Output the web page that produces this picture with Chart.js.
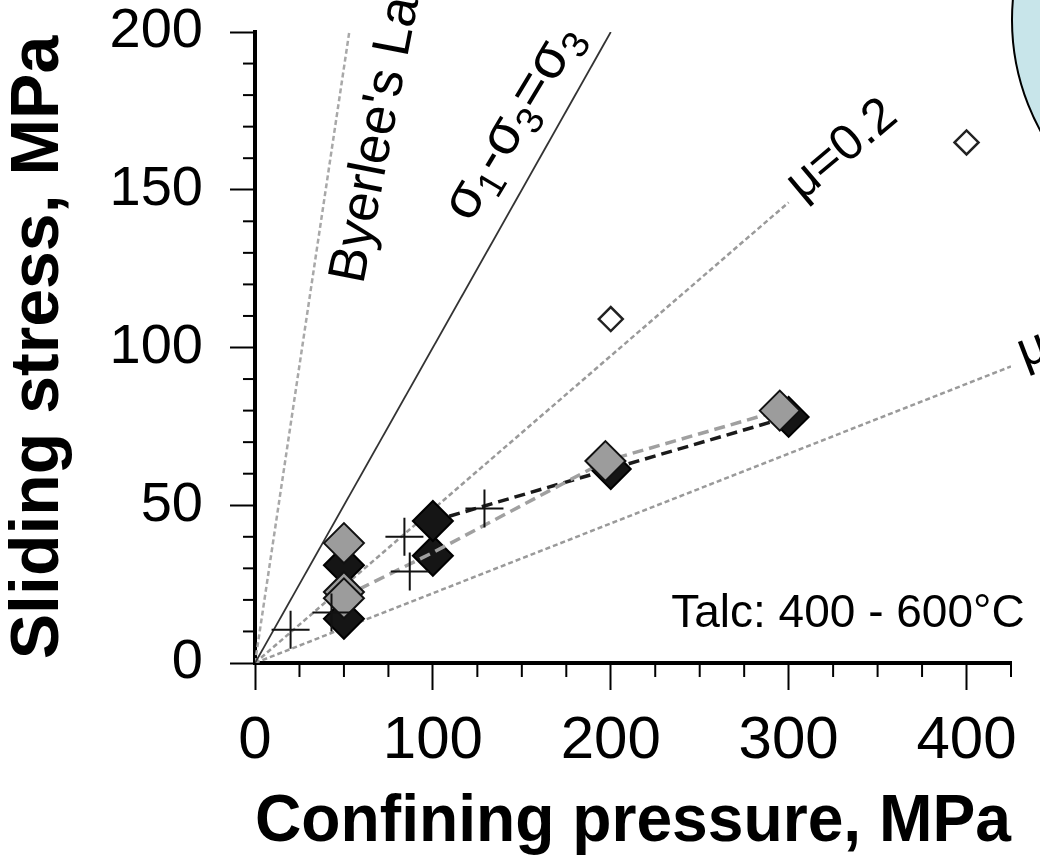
<!DOCTYPE html>
<html>
<head>
<meta charset="utf-8">
<script src="https://cdn.jsdelivr.net/npm/chart.js@4.4.1/dist/chart.umd.min.js"></script>
<style>
  html, body { margin: 0; padding: 0; background: #fff; }
  canvas { display: block; }
</style>
</head>
<body>
<canvas id="chart" width="1040" height="858"></canvas>
<script>
// =======================
// DATA
// =======================
const blackX = [50, 50, 100, 100, 200, 300];
const blackY = [14, 31, 34, 45, 61.5, 78];

const grayX = [50, 50, 50, 197, 295];
const grayY = [38, 22.5, 20.5, 64, 80];

const crossX = [20, 43, 84, 87, 129];
const crossY = [10.5, 16, 40, 29, 49];

const openX = [200, 400];
const openY = [109, 165];

// dashed trend lines through the runs
const blackLineX = [100, 200, 300];
const blackLineY = [45, 61.5, 78];
const grayLineX = [50, 100, 197, 295];
const grayLineY = [21, 35, 64, 80];

// reference lines (end points)
const byerleeX = [0, 53];
const byerleeY = [0, 200];
const sigmaX = [0, 200];
const sigmaY = [0, 200];
const mu02X = [0, 300];
const mu02Y = [0, 146];
const muLowX = [0, 425];
const muLowY = [0, 94];

// axes
const xMax = 425;
const yMax = 200;
const xMajor = 100;
const yMajor = 50;

// texts
const xTitle = "Confining pressure, MPa";
const yTitle = "Sliding stress, MPa";
const talcText = "Talc: 400 - 600°C";
const byerleeText = "Byerlee's Law";
const mu02Text = "μ=0.2";
const muLowText = "μ";
const sigmaParts = [["σ", 0], ["1", 1], ["-", 0], ["σ", 0], ["3", 1], ["=", 0], ["σ", 0], ["3", 1]];

const FONT = '"Liberation Sans", Arial, Helvetica, sans-serif';

function pts(xs, ys) {
    return xs.map((x, i) => ({ x: x, y: ys[i] }));
}

function refLine(xs, ys, color, width, dash, order) {
    return {
        data: pts(xs, ys),
        showLine: true,
        borderColor: color,
        borderWidth: width,
        borderDash: dash,
        pointRadius: 0,
        fill: false,
        order: order
    };
}

// =======================
// EXTRA DRAWING: minor ticks, labels, bubble
// =======================
const decor = {
    id: "decor",
    afterDraw(chart) {
        const { ctx, chartArea } = chart;
        const x = chart.scales.x;
        const y = chart.scales.y;

        ctx.save();
        // minor ticks
        ctx.strokeStyle = "#000";
        ctx.lineWidth = 2;
        x.ticks.forEach(t => {
            if (t.value % xMajor !== 0) {
                const px = x.getPixelForValue(t.value);
                ctx.beginPath();
                ctx.moveTo(px, chartArea.bottom);
                ctx.lineTo(px, chartArea.bottom + 14);
                ctx.stroke();
            }
        });
        y.ticks.forEach(t => {
            if (t.value % yMajor !== 0) {
                const py = y.getPixelForValue(t.value);
                ctx.beginPath();
                ctx.moveTo(chartArea.left, py);
                ctx.lineTo(chartArea.left - 12, py);
                ctx.stroke();
            }
        });

        ctx.fillStyle = "#000";
        ctx.textBaseline = "alphabetic";

        // Byerlee's Law
        ctx.save();
        ctx.translate(x.getPixelForValue(60.7), y.getPixelForValue(119.8));
        ctx.rotate(-79 * Math.PI / 180);
        ctx.font = "53px " + FONT;
        ctx.fillText(byerleeText, 0, 0);
        ctx.restore();

        // sigma1 - sigma3 = sigma3
        ctx.save();
        ctx.translate(x.getPixelForValue(120.9), y.getPixelForValue(139.2));
        ctx.rotate(-59 * Math.PI / 180);
        let cx = 0;
        sigmaParts.forEach(([t, sub]) => {
            ctx.font = (sub ? 38 : 56) + "px " + FONT;
            ctx.fillText(t, cx, sub ? 11 : 0);
            cx += ctx.measureText(t).width;
        });
        ctx.restore();

        // mu = 0.2
        ctx.save();
        ctx.translate(x.getPixelForValue(330), y.getPixelForValue(162.6));
        ctx.rotate(-40 * Math.PI / 180);
        ctx.font = "50px " + FONT;
        ctx.textAlign = "center";
        ctx.textBaseline = "middle";
        ctx.fillText(mu02Text, 0, 0);
        ctx.restore();

        // mu at right edge
        ctx.save();
        ctx.translate(x.getPixelForValue(432.5), y.getPixelForValue(93.5));
        ctx.rotate(-21 * Math.PI / 180);
        ctx.font = "50px " + FONT;
        ctx.fillText(muLowText, 0, 0);
        ctx.restore();

        // Talc text
        ctx.font = "46px " + FONT;
        ctx.fillText(talcText, x.getPixelForValue(234), y.getPixelForValue(11.4));

        // light blue bubble in the corner
        ctx.beginPath();
        ctx.arc(1242, 20, 230, 0, Math.PI * 2);
        ctx.fillStyle = "#c8e5ea";
        ctx.fill();
        ctx.lineWidth = 2;
        ctx.strokeStyle = "#000";
        ctx.stroke();

        ctx.restore();
    }
};

// =======================
// CHART
// =======================
new Chart(document.getElementById("chart"), {
    type: "scatter",
    data: {
        datasets: [
            {
                data: pts(crossX, crossY),
                pointStyle: "cross",
                pointRadius: 19,
                borderColor: "#111",
                borderWidth: 2,
                order: 0
            },
            {
                data: pts(grayX, grayY),
                pointStyle: "rectRot",
                pointRadius: 20,
                backgroundColor: "#9c9c9c",
                borderColor: "#111",
                borderWidth: 2,
                order: 1
            },
            refLine(grayLineX, grayLineY, "#a0a0a0", 3.5, [11, 6], 2),
            {
                data: pts(blackX, blackY),
                pointStyle: "rectRot",
                pointRadius: 20,
                backgroundColor: "#151515",
                borderColor: "#000",
                borderWidth: 2,
                order: 3
            },
            {
                data: pts(openX, openY),
                pointStyle: "rectRot",
                pointRadius: 12,
                backgroundColor: "#fff",
                borderColor: "#222",
                borderWidth: 2.5,
                order: 4
            },
            refLine(blackLineX, blackLineY, "#1a1a1a", 3.5, [11, 6], 5),
            refLine(sigmaX, sigmaY, "#333", 1.8, [], 6),
            refLine(byerleeX, byerleeY, "#a8a8a8", 2.5, [5, 3], 7),
            refLine(mu02X, mu02Y, "#9a9a9a", 2.5, [5, 3], 8),
            refLine(muLowX, muLowY, "#9a9a9a", 2.5, [5, 3], 9)
        ]
    },
    options: {
        responsive: false,
        animation: false,
        layout: { padding: { left: 0, right: 29, top: 32, bottom: 0 } },
        plugins: {
            legend: { display: false },
            tooltip: { enabled: false }
        },
        scales: {
            x: {
                type: "linear",
                min: 0,
                max: xMax,
                ticks: {
                    stepSize: 25,
                    autoSkip: false,
                    maxRotation: 0,
                    padding: 21,
                    color: "#000",
                    font: { family: FONT, size: 60, lineHeight: 1 },
                    callback: v => (v % xMajor === 0 ? String(v) : "")
                },
                grid: {
                    drawOnChartArea: false,
                    tickLength: 27,
                    tickWidth: 2,
                    tickColor: c => (c.tick && c.tick.value % xMajor === 0 ? "#000" : "rgba(0,0,0,0)")
                },
                border: { display: true, color: "#000", width: 4 },
                title: {
                    display: true,
                    text: xTitle,
                    color: "#000",
                    padding: { top: 0, bottom: 2 },
                    font: { family: FONT, size: 66, weight: "bold", lineHeight: 1 }
                },
                afterFit: s => { s.height = 195; }
            },
            y: {
                type: "linear",
                min: 0,
                max: yMax,
                ticks: {
                    stepSize: 10,
                    autoSkip: false,
                    padding: 27,
                    color: "#000",
                    // small line height keeps the top label from pushing the plot down
                    font: { family: FONT, size: 56, lineHeight: 0.1 },
                    callback: v => (v % yMajor === 0 ? String(v) : "")
                },
                grid: {
                    drawOnChartArea: false,
                    tickLength: 25,
                    tickWidth: 2,
                    tickColor: c => (c.tick && c.tick.value % yMajor === 0 ? "#000" : "rgba(0,0,0,0)")
                },
                border: { display: true, color: "#000", width: 4 },
                title: {
                    display: true,
                    text: yTitle,
                    color: "#000",
                    padding: { top: 5, bottom: 0 },
                    font: { family: FONT, size: 68, weight: "bold", lineHeight: 1 }
                },
                afterFit: s => { s.width = 255; }
            }
        }
    },
    plugins: [decor]
});
</script>
</body>
</html>
